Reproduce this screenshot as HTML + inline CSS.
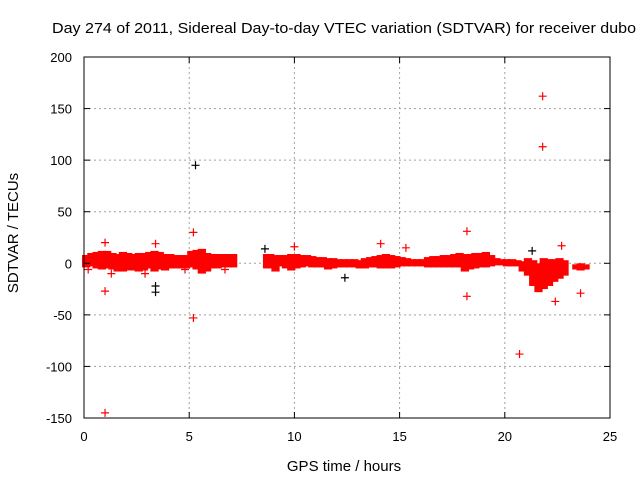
<!DOCTYPE html>
<html><head><meta charset="utf-8"><style>
body{margin:0;background:#fff}
svg{display:block;font-family:"Liberation Sans",sans-serif}
</style></head><body>
<svg id="chart" width="640" height="480" xmlns="http://www.w3.org/2000/svg">
<text x="52" y="33" font-size="15" textLength="584" lengthAdjust="spacingAndGlyphs">Day 274 of 2011, Sidereal Day-to-day VTEC variation (SDTVAR) for receiver dubo</text>
<text x="344" y="471" font-size="15" text-anchor="middle">GPS time / hours</text>
<text x="18" y="233" font-size="15" text-anchor="middle" transform="rotate(-90 18 233)">SDTVAR / TECUs</text>
<g id="grid"></g><g id="band"></g><g id="pts"></g><g id="axes"></g>
</svg>
<script>
const xTicks=[0,5,10,15,20,25];
const yTicks=[-150,-100,-50,0,50,100,150,200];
const bandTimes=[0,0.25,0.5,0.75,1,1.25,1.5,1.75,2,2.25,2.5,2.75,3,3.25,3.5,3.75,4,4.25,4.5,4.75,5,5.25,5.5,5.75,6,6.25,6.5,6.75,7,
8.6,8.75,9,9.25,9.5,9.75,10,10.25,10.5,10.75,11,11.25,11.5,11.75,12,12.25,12.5,12.75,13,13.25,13.5,13.75,14,14.25,14.5,14.75,15,15.25,15.5,15.75,16,16.25,16.5,16.75,17,17.25,17.5,17.75,18,18.25,18.5,18.75,19,19.25,19.5,19.75,20,20.25,20.5,20.75,21,21.25,21.5,21.75,22,22.25,22.5,22.75,
23.3,23.5,23.75];
const bandHigh=[8,10,11,12,12,10,9,11,10,9,10,10,11,12,11,9,9,8,8,8,12,13,14,10,9,9,9,9,9,
9,9,8,8,8,9,9,8,8,7,6,6,5,5,4,4,4,4,3,5,6,7,8,9,8,7,6,5,4,4,4,6,7,7,8,8,9,10,9,9,10,10,11,8,5,4,4,4,3,2,5,3,0,5,4,4,5,3,
-1,0,-1];
const bandLow=[-4,-3,-5,-6,-5,-6,-8,-8,-7,-7,-8,-7,-5,-8,-6,-7,-5,-5,-5,-5,-4,-6,-10,-8,-5,-5,-4,-4,-4,
-5,-5,-8,-3,-5,-7,-5,-4,-3,-4,-4,-4,-6,-5,-4,-4,-4,-4,-5,-5,-4,-4,-5,-5,-5,-4,-3,-3,-3,-3,-3,-4,-4,-4,-4,-4,-4,-4,-8,-6,-5,-4,-4,-3,-2,-2,-3,-3,-3,-8,-12,-22,-28,-25,-22,-18,-15,-12,
-6,-7,-6];
const outT=[1,1,5.2,5.2,21.8,21.8,20.7,18.2,18.2,22.4,23.6,3.4,1,14.1,15.3,10,22.7,6.7,2.9,1.3,0.2,4.8];
const outV=[-145,-27,30,-53,162,113,-88,31,-32,-37,-29,19,20,19,15,16,17,-6,-10,-10,-6,-6];
const blackT=[5.3,3.4,8.6,12.4,21.3,3.4];
const blackV=[95,-28,14,-14,12,-22];
const L=84,R=610,T=57,B=418;
const xs=v=>L+(v-0)/(25-0)*(R-L);
const ys=v=>B-(v+150)/(350)*(B-T);
const NS="http://www.w3.org/2000/svg";
function mk(tag,attrs,parent){const e=document.createElementNS(NS,tag);for(const k in attrs)e.setAttribute(k,attrs[k]);document.getElementById(parent).appendChild(e);return e;}
xTicks.forEach(t=>{
  if(t>0&&t<25){const g=mk('line',{x1:xs(t),x2:xs(t),y1:T,y2:B,stroke:'#a0a0a0','stroke-dasharray':'2,3'},'grid');
  
  }
  const tx=mk('text',{x:xs(t),y:B+23,'font-size':13,'text-anchor':'middle'},'axes');tx.textContent=t;
  
  
  mk('line',{x1:xs(t),x2:xs(t),y1:B,y2:B-6,stroke:'#000'},'axes');
  mk('line',{x1:xs(t),x2:xs(t),y1:T,y2:T+6,stroke:'#000'},'axes');
});
yTicks.forEach(t=>{
  if(t>-150&&t<200){const g=mk('line',{x1:L,x2:R,y1:ys(t),y2:ys(t),stroke:'#a0a0a0','stroke-dasharray':'2,3'},'grid');
  
  }
  const tx=mk('text',{x:L-12,y:ys(t)+5,'font-size':13,'text-anchor':'end'},'axes');tx.textContent=t;
  
  
  mk('line',{x1:L,x2:L+6,y1:ys(t),y2:ys(t),stroke:'#000'},'axes');
  mk('line',{x1:R,x2:R-6,y1:ys(t),y2:ys(t),stroke:'#000'},'axes');
});
const fr=mk('rect',{x:L,y:T,width:R-L,height:B-T,fill:'none',stroke:'#000'},'axes');


bandTimes.forEach((t,i)=>{
  let next=bandTimes[i+1];let w=(next!==undefined&&next-t<=0.3)?xs(next)-xs(t)+1:6;
  const r=mk('rect',{x:xs(t)-2,y:ys(bandHigh[i]),width:w+2,height:Math.max(2,ys(bandLow[i])-ys(bandHigh[i])),fill:'#ff0000'},'band');
  
  
});
function cross(t,v,c,name){
  const p=mk('path',{d:`M${xs(t)-4},${ys(v)}h8M${xs(t)},${ys(v)-4}v8`,stroke:c,'stroke-width':1.2},'pts');
  
  
}
outT.forEach((t,i)=>cross(t,outV[i],'#ff0000','outlier-point'));
blackT.forEach((t,i)=>cross(t,blackV[i],'#000','black-outlier-point'));
</script>
</body></html>
